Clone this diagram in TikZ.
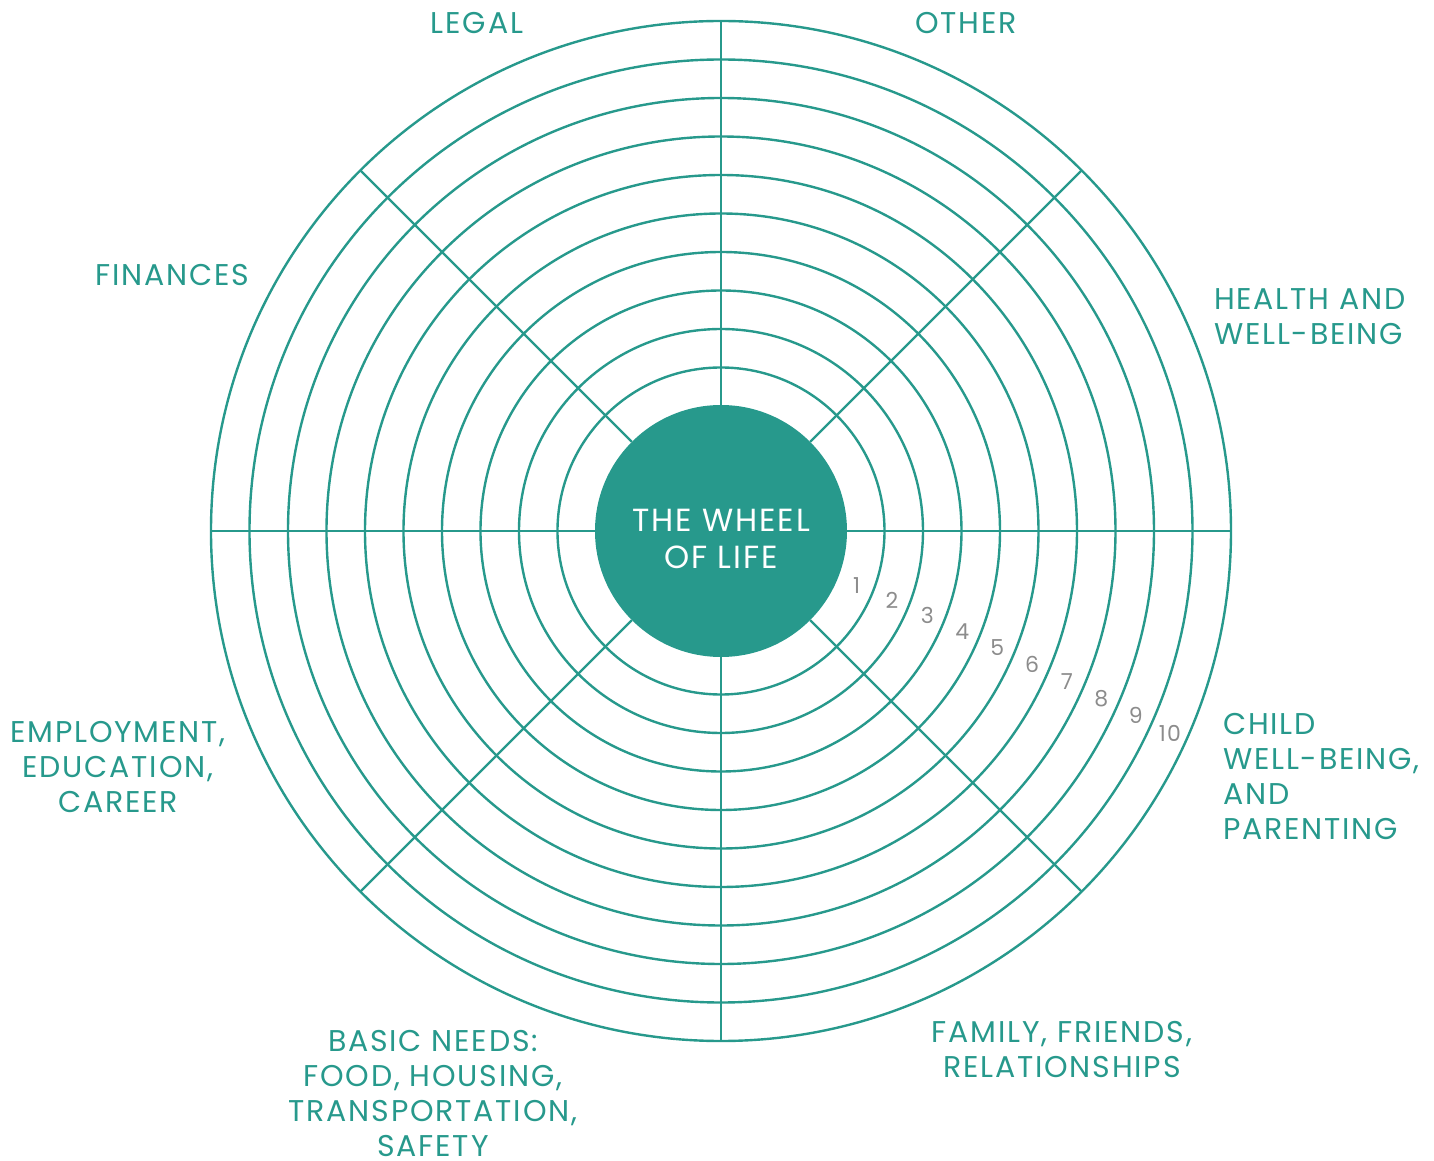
\documentclass[tikz,border=0pt]{standalone}
\usepackage{fontspec}
\setmainfont{Poppins}[LetterSpace=6]
\definecolor{wheelteal}{RGB}{39,153,140}
\definecolor{scoregray}{RGB}{140,140,140}

\begin{document}
\begin{tikzpicture}[x=1pt,y=1pt,
    ring/.style={draw=wheelteal,line width=2.4pt},
    area/.style={text=wheelteal,align=center,inner sep=0pt,font=\fontsize{30}{35}\selectfont},
    score/.style={text=scoregray,inner sep=0pt,font=\fontsize{22}{22}\selectfont}]
  \useasboundingbox (-721,-630) rectangle (713,531);
  % rings and spokes
  \foreach \r in {1,...,10}
    \draw [ring] (0,0) circle ({125+38.5*\r});
  \node (hub) [circle,fill=wheelteal,minimum size=252pt,inner sep=0pt] at (0,0) {};
  \foreach \a in {0,45,...,315}
    \draw [ring] (hub.\a) -- (\a:510);
  \node (title) [area,text=white,font=\fontsize{32}{37}\selectfont] at (0,-7.5) {THE WHEEL\\OF LIFE};
  % scores
  \foreach \n in {1,...,10}
    \node (s\n) [score] at ({-21.5-0.28*\n}:{107.5+38.5*\n}) {\n};
  % areas of life
  \node (legal) [area] at (-244,508) {LEGAL};
  \node (other) [area] at (245,508) {OTHER};
  \node (finances) [area] at (-549,256) {FINANCES};
  \node (health) [area,align=left,anchor=west] at (493,214.5) {HEALTH AND\\WELL-BEING};
  \node (child) [area,align=left,anchor=west] at (502,-245.5) {CHILD\\WELL-BEING,\\AND\\PARENTING};
  \node (employment) [area] at (-603,-236) {EMPLOYMENT,\\EDUCATION,\\CAREER};
  \node (family) [area] at (341,-519) {FAMILY, FRIENDS,\\RELATIONSHIPS};
  \node (basic) [area] at (-288,-563) {BASIC NEEDS:\\FOOD, HOUSING,\\TRANSPORTATION,\\SAFETY};
\end{tikzpicture}
\end{document}
